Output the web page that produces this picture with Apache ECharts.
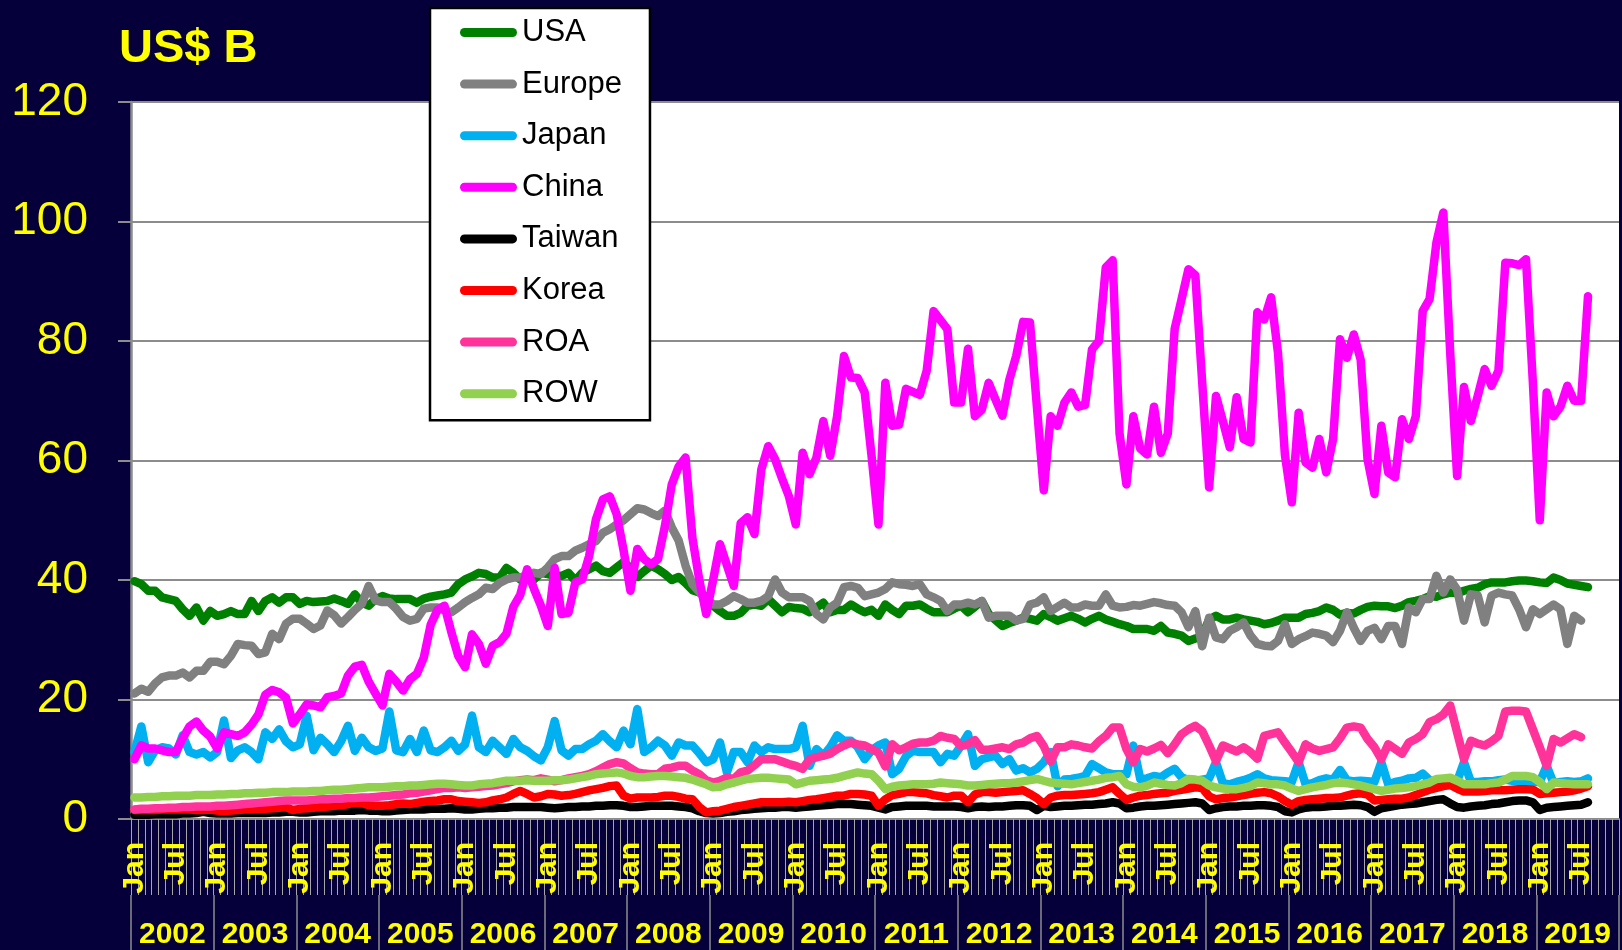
<!DOCTYPE html>
<html>
<head>
<meta charset="utf-8">
<script src="https://cdn.jsdelivr.net/npm/echarts@6/dist/echarts.min.js"></script>
<style>
html,body{margin:0;padding:0;background:#06003a;}
#c{width:1622px;height:950px;}
</style>
</head>
<body>
<div id="c"></div>
<script>
// ---- categories / tick labels ----
const monthNames = ['Jan','Feb','Mar','Apr','May','Jun','Jul','Aug','Sep','Oct','Nov','Dec'];
const years = ['2002','2003','2004','2005','2006','2007','2008','2009','2010','2011','2012','2013','2014','2015','2016','2017','2018','2019'];
const yTicks = [0, 20, 40, 60, 80, 100, 120];

// ---- series values (US$ B, monthly Jan 2002 - Aug 2019) ----
const usa = [
39.8,39.3,38.2,38.2,37.1,36.8,36.5,35.1,34,35.4,33.2,34.8,
34,34.3,34.8,34.3,34.3,36.5,34.8,36.5,37.1,36.2,37.1,37.1,
36,36.5,36.3,36.4,36.5,36.9,36.5,36,37.6,36.2,35.7,36.8,
37.3,36.9,36.8,36.8,36.8,36.2,36.9,37.2,37.4,37.6,37.9,39.3,
40.1,40.6,41.2,41,40.4,40.4,42,41.2,40.1,41,40.1,41.2,
41,40.7,40.7,41.2,39.9,41.2,41.8,42.4,41.5,41.2,42.1,43,
42,40.5,41.5,42.4,41.8,41,40,40.5,39.5,38.3,37.9,37.1,
35.7,34.8,34,34,34.5,35.7,35.9,35.7,36.8,35.7,34.6,35.5,
35.3,35.2,34.6,35.4,36.2,34.6,35,35,35.9,35.2,34.6,35,
34,35.9,35,34.3,35.7,35.7,35.9,35.2,34.6,34.6,34.6,35.2,
35.7,34.6,35.5,36.5,34.3,33.3,32.3,32.8,33.2,33.7,33.5,33.2,
34.3,33.8,33.2,33.6,34,33.5,32.9,33.5,34,33.4,33,32.6,
32.3,31.8,31.8,31.8,31.5,32.3,31.2,31,30.7,29.8,30.2,30.7,
33.4,34,33.4,33.4,33.7,33.4,33.2,33,32.6,32.8,33.2,33.7,
33.7,33.7,34.3,34.5,34.8,35.4,35,34.2,34.5,34.4,35,35.5,
35.7,35.6,35.6,35.3,35.7,36.3,36.5,36.8,37.3,37.2,37.6,37.9,
37.8,38.2,38.5,38.7,39.3,39.6,39.6,39.6,39.8,39.9,39.9,39.8,
39.6,39.5,40.4,40,39.4,39.2,39,38.8];

const europe = [
21,21.8,21.3,22.7,23.7,24,24,24.5,23.7,24.8,24.8,26.3,
26.3,25.9,27.3,29.3,29.1,29,27.6,27.9,31,30.1,32.7,33.5,
33.5,32.7,31.8,32.4,34.9,34.1,32.7,33.8,35,36,39,36.6,
36.3,36.3,35.2,33.8,33.2,33.5,35.2,35.4,35.4,34.9,34.6,35.4,
36.3,37,37.6,38.7,38.5,39.5,40.1,40.4,40.4,40.8,41.2,41,
42.1,43.5,44,44,44.9,45.4,46,46.5,47.9,48.5,49.3,50,
51,52,51.8,51.2,50.7,51.6,48.8,46.6,42.4,39.3,38,36.8,
35.9,35.9,36.5,37.3,36.8,36.2,36.2,36.5,37.3,40.1,37.9,37.1,
37.1,37.1,36.5,34.3,33.4,35.4,36.2,38.8,39,38.7,37.3,37.6,
37.9,38.5,39.6,39.3,39.2,39,39.3,37.6,37.1,36.5,34.8,35.9,
35.9,36.2,35.9,36.5,33.7,34,34,34,33.2,33.5,35.9,36.2,
37.1,34.8,35.5,36.2,35.4,35.4,35.9,35.7,35.7,37.6,35.7,35.4,
35.5,35.8,35.7,36,36.3,36.1,35.8,35.7,34.6,32.1,34.8,28.9,
33.7,30.4,30.1,31.5,32.1,32.9,30.7,29.3,29,28.9,29.8,32.6,
29.3,30.1,30.6,31.2,31,30.7,29.6,31.5,34.6,32,29.8,31.5,
32,30.1,32.3,32.3,29.3,35.4,34.6,36.8,36.8,40.7,37.9,40.1,
38.4,33.2,37.6,37.4,32.9,37.4,37.9,37.6,37.4,35.1,32.1,35.1,
34.3,35.1,35.9,35.1,29.3,34,33.2];

const japan = [
11.2,15.5,9.5,11.5,12,11.8,10.8,14,11.2,10.8,11.2,10.3,
11.2,16.5,10.2,11.5,12,11.2,10,14.5,13.4,15,13,12,
12.5,17.3,11.5,13.6,12.5,11.2,13,15.6,11.4,13.6,12,11.4,
11.8,18,11.5,11.2,13.4,11.2,14.8,11.5,11.2,12,13.1,11.4,
12.5,17.3,12,11.2,13.1,12,10.9,13.4,12,11.4,10.5,9.8,
12,16.4,11.5,10.6,11.7,11.7,12.5,13.1,14.2,13,12,14.8,
12.5,18.4,11.2,12,13.1,12.3,10.6,12.8,12.3,12.3,11,9.5,
10,12.8,7.8,11.2,11.2,9.5,12.3,11.2,12,11.7,11.7,11.7,
12,15.6,8.9,11.7,10.6,12,14,13.1,13.1,12,10,11.5,
12.3,12.8,7.5,8.4,10.5,11.4,11.2,11.2,11.2,9.5,10.9,10.6,
12.3,14.2,8.9,10,10.3,10.6,9.2,10,8.1,8.5,7.8,8.4,
9.5,11.2,5.5,6.6,6.7,6.9,7.2,9.2,8.5,7.8,7.5,7.5,
7.5,12.3,6.7,6.8,7.2,7,7.8,8.4,7,6.5,6.4,6.6,
6.8,9.5,6,5.8,6.2,6.5,6.9,7.5,6.8,6.5,6.4,6.3,
6.2,9.5,5.8,6,6.5,6.8,6.6,8.2,6.5,6.3,6.4,6.3,
6.2,9.5,5.8,6.2,6.4,6.8,6.9,7.6,6.5,6.3,6.2,6.4,
6.3,9.5,6.2,6.2,6.3,6.3,6.5,6.6,6.4,6.3,6.3,6.2,
6.2,8.9,6,6.2,6.3,6.2,6.3,6.8];

const china = [
10,12.3,11.8,11.8,11.5,11.2,11.2,13.5,15.5,16.3,14.8,13.8,
11.8,14.5,14.2,13.9,14.5,15.8,17.5,20.8,21.6,21.2,20.3,16,
17.5,19.2,19,18.7,20.4,20.6,21,24,25.5,25.8,23,21,
19,24.3,23,21.5,23.4,24.3,27,32.5,35,35.7,31.3,27.3,
25.4,30.9,29.3,26,29,29.6,31,35.5,37.5,41.8,38.5,35.7,
32.3,42,34.3,34.5,39.6,40.1,44,50.2,53.5,54,51,45,
38.2,45.2,43.5,42.6,43.5,49,56,59,60.5,47,40,34.3,
40,46,42.5,39,49.5,50.5,47.7,58.5,62.4,60.2,57,54,
49.3,61.3,57.7,60.5,66.6,60.8,67.4,77.5,73.9,73.8,71.4,60.8,
49.3,73,65.8,66,72,71.5,71,75,85,83.5,82,69.7,
69.7,78.7,67.4,68.5,73,70.2,67.5,73.5,77.5,83.2,83.1,69,
55,67.4,65.8,69.7,71.4,69,69.3,78.6,80,92.3,93.5,64.5,
56,67.4,62,61,69,61.3,64.5,82,87,92,91,73,
55.5,70.8,66.6,62.2,70.6,63.6,63,84.8,83.6,87.3,78,61,
53,68,59.7,58.8,63.6,58,63.6,80.3,77.2,81.1,76.9,60.2,
54.4,65.8,58,57.2,66.9,63.6,67.4,85,87,96.5,101.5,78,
57.4,72.3,66.6,70.8,75.3,72.5,75,93.1,93,92.7,93.7,73,
50,71.4,67.4,69,72.5,70,70,87.5];

const taiwan = [
0.7,0.7,0.7,0.8,0.8,0.8,0.8,0.9,0.9,1,1.2,1,
0.9,0.9,0.9,1,1,1,1,1,1.1,1.1,1.2,1.2,
1.1,1.1,1.2,1.3,1.3,1.3,1.4,1.4,1.4,1.5,1.4,1.4,
1.3,1.3,1.4,1.5,1.6,1.6,1.6,1.7,1.7,1.7,1.8,1.7,
1.6,1.6,1.7,1.8,1.8,1.9,1.9,2,2,2,2,2,
1.9,1.8,1.9,2,2,2.1,2.1,2.2,2.2,2.3,2.3,2.2,
2,2,2.1,2.2,2.2,2.2,2.2,2.1,2,1.8,1.3,1,
0.9,1,1.2,1.3,1.5,1.6,1.7,1.8,1.9,1.9,2,2,
1.9,2,2.1,2.2,2.3,2.4,2.5,2.5,2.5,2.4,2.3,2.2,
1.9,1.6,2,2.1,2.2,2.2,2.2,2.2,2.1,2.1,2.1,2.1,
2,1.8,2,2.1,2,2.1,2.1,2.2,2.3,2.3,2.2,1.5,
2.2,2,2.1,2.2,2.2,2.3,2.4,2.4,2.5,2.6,2.8,2.6,
1.8,1.9,2.1,2.2,2.2,2.3,2.4,2.5,2.6,2.7,2.8,2.6,
1.5,1.8,2,2.1,2.1,2.2,2.2,2.3,2.3,2.2,2,1.3,
1.1,1.6,1.9,2,2,2.1,2.2,2.2,2.3,2.4,2.3,2,
1.2,1.8,2,2.2,2.4,2.5,2.6,2.8,3,3.2,3.3,2.6,
2,1.9,2.1,2.2,2.3,2.5,2.6,2.8,3,3.1,3.1,2.8,
1.5,1.9,2,2.1,2.2,2.3,2.4,2.8];

const korea = [
1.5,1.5,1.5,1.5,1.6,1.6,1.6,1.6,1.6,1.5,1.5,1.6,
1.4,1.3,1.4,1.5,1.6,1.6,1.7,1.7,1.8,1.9,2,1.5,
1.7,1.8,1.9,2,2.1,2.2,2.3,2.5,2.7,2.7,2.3,2.2,
2.2,2.3,2.5,2.6,2.5,2.7,2.9,3,3.1,3.3,3.3,3,
2.9,2.8,2.7,2.8,3.1,3.3,3.6,4.2,4.7,4.2,3.6,3.8,
4.2,4.1,3.9,4,4.2,4.5,4.8,5,5.2,5.5,5.6,3.9,
3.4,3.6,3.6,3.6,3.7,3.9,3.9,3.7,3.4,3.3,2,1.1,
1.3,1.4,1.7,2,2.2,2.4,2.6,2.8,2.8,2.8,2.8,2.9,
2.8,3,3.2,3.3,3.5,3.7,3.9,3.9,4.2,4.2,4.1,3.9,
2.2,3.3,4,4.2,4.5,4.5,4.4,4.3,4,3.8,3.6,3.9,
3.9,2.8,4.1,4.5,4.5,4.4,4.5,4.6,4.7,4.8,4.2,3.5,
2.5,3.6,3.9,4,4,4.1,4.2,4.3,4.5,4.9,5.3,4.2,
3.2,3.6,3.9,4,4.2,4.3,4.4,4.7,4.9,5.1,5.3,5.2,
3.8,3.3,3.5,3.6,3.8,4,4.2,4.4,4.5,4.3,3.8,3,
2.4,3,3.2,3.3,3.4,3.5,3.5,3.6,3.9,4.2,4.3,4.1,
3.1,3.2,3.3,3.4,3.4,3.6,4,4.5,4.9,5.2,5.5,5.7,
5.1,4.6,4.6,4.6,4.7,4.8,4.8,4.8,4.9,5,5,4.9,
4.2,4.3,4.4,4.5,4.6,4.8,5.1,5.5];

const roa = [
1.6,1.7,1.7,1.8,1.8,1.9,1.9,2,2,2.1,2.1,2.1,
2.2,2.2,2.3,2.4,2.5,2.6,2.7,2.8,2.9,3,3.1,3.1,
3.1,3.1,3.2,3.3,3.3,3.4,3.4,3.5,3.5,3.6,3.6,3.7,
3.8,3.9,4,4.1,4.3,4.4,4.6,4.8,5,5.2,5.2,5.3,
5.2,5.3,5.4,5.5,5.6,5.8,6,6.3,6.5,6.6,6.5,6.8,
6.6,6.3,6.5,6.8,7,7.2,7.5,8,8.6,9.2,9.5,9.3,
8.5,7.8,7.6,7.5,7.5,8.4,8.6,8.9,8.9,8.1,7.5,6.5,
6.1,6.4,6.9,6.7,7.8,8.1,9,10,10,10,9.6,9.2,
8.9,8.4,10,10.3,10.6,10.9,11.7,12.3,12.8,12.5,12.3,11.7,
11.1,8.8,12.5,11.5,12,12.6,12.8,12.8,13.1,13.9,13.6,13.4,
12.2,12.5,13.2,11.6,11.6,11.8,12,11.7,12.5,12.8,13.5,13.9,
12.2,9.6,12,12,12.5,12.3,12,11.8,13,13.9,15.3,15.3,
11.7,9.5,11.7,11.3,11.8,12.4,11,12.5,14.2,15,15.6,14.7,
12.3,9.7,12.3,11.8,11.3,12,11.2,10.1,13.9,14.2,14.5,12.8,
11.2,9.5,12.5,11.8,11.4,11.7,12,13.5,15.3,15.5,15.3,13.4,
12,10,12.5,11.7,10.9,12.8,13.4,14.2,16.2,16.7,17.5,19,
14.5,10,13.1,12.6,12.3,13,13.9,18,18.1,18.1,18,15,
12,8.9,13.4,12.8,13.5,14.2,13.7];

const row = [
3.6,3.6,3.7,3.7,3.8,3.8,3.9,3.9,3.9,4,4,4,
4.1,4.1,4.2,4.2,4.3,4.3,4.4,4.4,4.5,4.5,4.5,4.6,
4.6,4.6,4.7,4.7,4.8,4.9,4.9,5,5.1,5.2,5.3,5.3,
5.3,5.4,5.5,5.5,5.6,5.6,5.7,5.8,5.9,5.9,5.8,5.7,
5.6,5.6,5.8,5.9,6,6.2,6.4,6.4,6.4,6.5,6.4,6.4,
6.4,6.5,6.5,6.6,6.8,7,7.2,7.5,7.6,7.7,7.8,7.6,
7.2,7,7,7.1,7.2,7.2,7.1,7,6.9,6.6,6.2,5.8,
5.3,5.4,5.8,6.1,6.4,6.7,6.8,6.9,6.9,6.8,6.7,6.6,
5.8,6.1,6.4,6.5,6.6,6.7,6.9,7.2,7.5,7.8,7.6,7.5,
6.4,5,5.4,5.6,5.7,5.8,5.8,5.8,5.9,6.1,6,5.9,
5.8,5.6,5.6,5.7,5.8,5.9,6,6,6.1,6.3,6.5,6.7,
6.4,6.1,6,5.9,5.8,6,6.2,6.4,6.6,6.9,7,7.2,
5.8,5.4,5.3,5.6,6.1,5.9,5.7,5.6,6,6.7,6.6,6.4,
5.6,5.3,5.1,5,5,5.2,5.5,6.1,6,5.8,5.8,5.6,
5.1,4.7,5,5.3,5.5,5.7,6,6.1,6,5.8,5.6,5.3,
5,4.7,4.9,5.1,5.2,5.3,5.5,5.8,6.1,6.7,6.8,6.9,
6.4,5.8,5.8,5.8,5.8,6,6.1,6.6,7.2,7.2,7.2,7,
6.2,5,6.1,6,5.9,5.8,5.8,5.8];

// ---- build category list (one per month) ----
const categories = [];
years.forEach(y => monthNames.forEach(m => categories.push(m + ' ' + y)));

const YELLOW = '#ffff00';
const FONT = '"Liberation Sans", Arial, sans-serif';
const GRID_GREY = '#8c8c8c';

const seriesDefs = [
  {name:'USA', data:usa, color:'#008000'},
  {name:'Europe', data:europe, color:'#808080'},
  {name:'Japan', data:japan, color:'#00b0f0'},
  {name:'China', data:china, color:'#ff00ff'},
  {name:'Taiwan', data:taiwan, color:'#000000'},
  {name:'Korea', data:korea, color:'#ff0000'},
  {name:'ROA', data:roa, color:'#ff3399'},
  {name:'ROW', data:row, color:'#92d050'}
];

const chart = echarts.init(document.getElementById('c'), null, {renderer:'canvas', width:1622, height:950});

chart.setOption({
  animation: false,
  backgroundColor: '#06003a',
  grid: {left:131, right:3, top:102, bottom:131, show:true, backgroundColor:'#ffffff', borderWidth:0},
  graphic: [{
    type:'text', x:119, y:49, z:10,
    style:{text:'US$ B', fill:YELLOW, font:'bold 47px ' + FONT, verticalAlign:'middle'}
  }],
  legend: {
    orient:'vertical', left:430, top:8,
    padding:[9, 28, 11, 30],
    itemWidth:57, itemHeight:9, itemGap:20.6,
    icon:'path://M4.5 0H52.5A4.5 4.5 0 0 1 52.5 9H4.5A4.5 4.5 0 0 1 4.5 0Z',
    backgroundColor:'#ffffff', borderColor:'#000000', borderWidth:2.5,
    textStyle:{color:'#000000', fontSize:31, fontFamily:FONT, lineHeight:30},
    data: seriesDefs.map(s => s.name)
  },
  xAxis: [
    {
      type:'category', data:categories, boundaryGap:true, position:'bottom',
      axisLine:{show:true, lineStyle:{color:GRID_GREY, width:2}},
      axisTick:{show:true, interval:0, length:76, lineStyle:{color:'#a6a6a6', width:1}},
      axisLabel:{
        interval:(i) => i % 6 === 0,
        rotate:90, margin:23, color:YELLOW, fontSize:30, fontWeight:'bold', fontFamily:FONT,
        formatter:(v) => v.split(' ')[0]
      },
      splitLine:{show:false}
    },
    {
      type:'category', data:years, boundaryGap:true, position:'bottom', offset:76,
      axisLine:{show:false},
      axisTick:{show:true, interval:0, length:55, lineStyle:{color:GRID_GREY, width:1.5}},
      axisLabel:{interval:0, margin:25, color:YELLOW, fontSize:30, fontWeight:'bold', fontFamily:FONT, lineHeight:30},
      splitLine:{show:false}
    }
  ],
  yAxis: {
    type:'value', min:yTicks[0], max:yTicks[yTicks.length-1], interval:yTicks[1]-yTicks[0],
    axisLine:{show:true, lineStyle:{color:GRID_GREY, width:2.5}},
    axisTick:{show:true, length:13, lineStyle:{color:GRID_GREY, width:2}},
    splitLine:{show:true, lineStyle:{color:GRID_GREY, width:2}},
    axisLabel:{color:YELLOW, fontSize:46, fontFamily:FONT, margin:43}
  },
  series: seriesDefs.map((s, k) => ({
    name:s.name, type:'line', data:s.data, xAxisIndex:0,
    color:s.color, showSymbol:false, symbol:'none', z:2 + k * 0.01,
    lineStyle:{width:8.5, color:s.color, cap:'round', join:'round'},
    emphasis:{disabled:true}
  }))
});
</script>
</body>
</html>
